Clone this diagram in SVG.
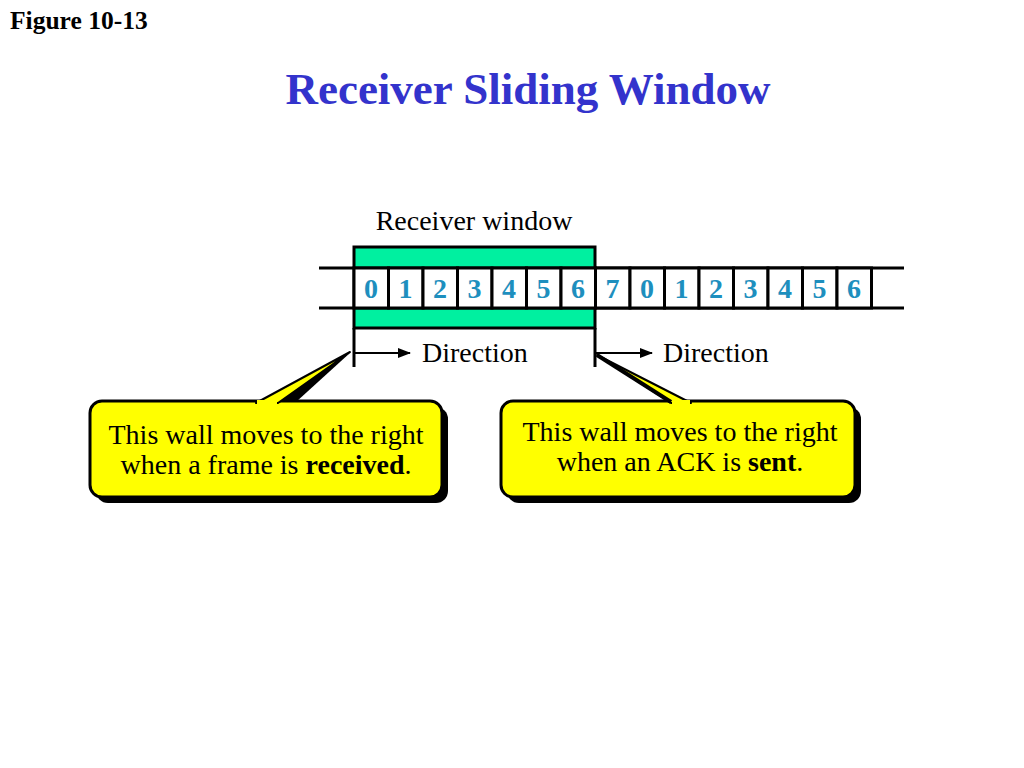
<svg xmlns="http://www.w3.org/2000/svg" width="1024" height="768" viewBox="0 0 1024 768">
<style>
.t{font-family:"Liberation Serif","Times New Roman",serif;fill:#000}
.d{font-family:"Liberation Serif","Times New Roman",serif;font-weight:bold;font-size:28px;fill:#1E8FBE;text-anchor:middle}
.ln{stroke:#000;stroke-width:3;fill:none}
.cell{fill:#fff;stroke:#000;stroke-width:3}
.box{fill:#FFFF00;stroke:#000;stroke-width:3}
.sh{fill:#000}
</style>
<defs>
<marker id="ah" markerWidth="13" markerHeight="10" refX="12" refY="5" orient="auto" markerUnits="userSpaceOnUse">
<path d="M0,0 L13,5 L0,10 Z" fill="#000"/>
</marker>
</defs>
<rect width="1024" height="768" fill="#fff"/>
<text class="t" x="10" y="29" font-size="25.5" font-weight="bold">Figure 10-13</text>
<text x="528" y="104" font-family="Liberation Serif,Times New Roman,serif" font-size="45" font-weight="bold" fill="#3333CC" text-anchor="middle">Receiver Sliding Window</text>
<g id="window">
<text class="t" x="474" y="230" font-size="28" text-anchor="middle">Receiver window</text>
<rect x="354" y="247" width="241" height="81" fill="#00F0A0" stroke="#000" stroke-width="3"/>
</g>
<g id="sequence">
<line class="ln" x1="319" y1="268" x2="904" y2="268"/>
<line class="ln" x1="319" y1="308" x2="904" y2="308"/>
<g id="cells">
<rect class="cell" x="354" y="268" width="34.5" height="40"/>
<rect class="cell" x="388.5" y="268" width="34.5" height="40"/>
<rect class="cell" x="423" y="268" width="34.5" height="40"/>
<rect class="cell" x="457.5" y="268" width="34.5" height="40"/>
<rect class="cell" x="492" y="268" width="34.5" height="40"/>
<rect class="cell" x="526.5" y="268" width="34.5" height="40"/>
<rect class="cell" x="561" y="268" width="34.5" height="40"/>
<rect class="cell" x="595.5" y="268" width="34.5" height="40"/>
<rect class="cell" x="630" y="268" width="34.5" height="40"/>
<rect class="cell" x="664.5" y="268" width="34.5" height="40"/>
<rect class="cell" x="699" y="268" width="34.5" height="40"/>
<rect class="cell" x="733.5" y="268" width="34.5" height="40"/>
<rect class="cell" x="768" y="268" width="34.5" height="40"/>
<rect class="cell" x="802.5" y="268" width="34.5" height="40"/>
<rect class="cell" x="837" y="268" width="34.5" height="40"/>
</g>
<g id="digits">
<text class="d" x="371" y="298">0</text>
<text class="d" x="405.5" y="298">1</text>
<text class="d" x="440" y="298">2</text>
<text class="d" x="474.5" y="298">3</text>
<text class="d" x="509" y="298">4</text>
<text class="d" x="543.5" y="298">5</text>
<text class="d" x="578" y="298">6</text>
<text class="d" x="612.5" y="298">7</text>
<text class="d" x="647" y="298">0</text>
<text class="d" x="681.5" y="298">1</text>
<text class="d" x="716" y="298">2</text>
<text class="d" x="750.5" y="298">3</text>
<text class="d" x="785" y="298">4</text>
<text class="d" x="819.5" y="298">5</text>
<text class="d" x="854" y="298">6</text>
</g>
</g>
<g id="connectors">
<line class="ln" x1="354" y1="328" x2="354" y2="367"/>
<line class="ln" x1="595" y1="328" x2="595" y2="367"/>
<line x1="355" y1="353" x2="410" y2="353" stroke="#000" stroke-width="2" marker-end="url(#ah)"/>
<line x1="596" y1="353" x2="652" y2="353" stroke="#000" stroke-width="2" marker-end="url(#ah)"/>
</g>
<text class="t" x="422" y="362" font-size="28">Direction</text>
<text class="t" x="663" y="362" font-size="28">Direction</text>
<g id="callout-left">
<rect class="sh" x="96" y="407" width="352" height="96" rx="12"/>
<polygon class="sh" points="276,402 296,402 351,352"/>
<rect class="box" x="90" y="401" width="352" height="96" rx="12"/>
<polygon points="256,403 278,403 350,352" fill="#FFFF00" stroke="#000" stroke-width="2" stroke-linejoin="round"/>
<rect x="257" y="400" width="20" height="5" fill="#FFFF00"/>
<text class="t" x="266" y="444" font-size="28" text-anchor="middle">This wall moves to the right</text>
<text class="t" x="266" y="474" font-size="28" text-anchor="middle">when a frame is <tspan font-weight="bold">received</tspan>.</text>
</g>
<g id="callout-right">
<rect class="sh" x="507" y="407" width="354" height="96" rx="12"/>
<rect class="box" x="501" y="401" width="354" height="96" rx="12"/>
<polygon points="597,355 671,403 691,403" fill="#FFFF00" stroke="#000" stroke-width="2" stroke-linejoin="round"/>
<line x1="597" y1="355" x2="671" y2="402" stroke="#000" stroke-width="4"/>
<rect x="672" y="400" width="18" height="5" fill="#FFFF00"/>
<text class="t" x="680" y="441" font-size="28" text-anchor="middle">This wall moves to the right</text>
<text class="t" x="680" y="471" font-size="28" text-anchor="middle">when an ACK is <tspan font-weight="bold">sent</tspan>.</text>
</g>
</svg>
